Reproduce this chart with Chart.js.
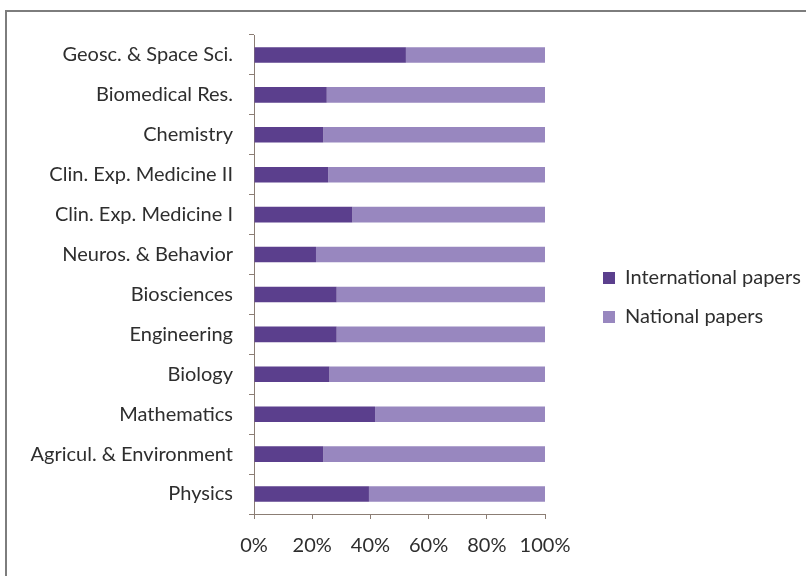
<!DOCTYPE html>
<html>
<head>
<meta charset="utf-8">
<script src="https://cdn.jsdelivr.net/npm/chart.js@4"></script>
<style>
  html, body { margin: 0; padding: 0; background: #fff; }
  #wrap { position: relative; width: 806px; height: 576px; overflow: hidden; }
  #frame { position: absolute; left: 5px; top: 10px; width: 840px; height: 620px;
           border: 2px solid #7d7d7d; pointer-events: none; }
  canvas { position: absolute; left: 0; top: 0; }
</style>
</head>
<body>
<div id="wrap">
  <div id="frame"></div>
  <canvas id="bar_chart" width="806" height="576"></canvas>
</div>
<script>
var fields = ['Geosc. & Space Sci.', 'Biomedical Res.', 'Chemistry', 'Clin. Exp. Medicine II',
              'Clin. Exp. Medicine I', 'Neuros. & Behavior', 'Biosciences', 'Engineering',
              'Biology', 'Mathematics', 'Agricul. & Environment', 'Physics'];
var internationalShare = [52.2, 25.0, 23.8, 25.5, 33.8, 21.3, 28.4, 28.4, 25.9, 41.6, 23.8, 39.5];
var nationalShare      = [47.8, 75.0, 76.2, 74.5, 66.2, 78.7, 71.6, 71.6, 74.1, 58.4, 76.2, 60.5];
var percentTicks = [0, 20, 40, 60, 80, 100];

var axisColor = '#8b7d74';
var textColor = '#2e2e2e';

Chart.defaults.font.family = 'Lato';
Chart.defaults.font.size = 20;
Chart.defaults.color = textColor;

// keep the legend next to the plot but push its items further right
var legendOffset = {
  id: 'legendOffset',
  beforeLayout: function(chart) {
    var lg = chart.legend;
    if (!lg || lg._offsetDone) return;
    lg._offsetDone = true;
    var fit = lg.fit;
    lg.fit = function() {
      fit.apply(this, arguments);
      this.width = 261;
    };
    var draw = lg.draw;
    lg.draw = function() {
      var ctx = this.ctx;
      ctx.save();
      ctx.translate(39, -8);
      draw.apply(this, arguments);
      ctx.restore();
    };
  }
};

new Chart(document.getElementById('bar_chart').getContext('2d'), {
  type: 'bar',
  data: {
    labels: fields,
    datasets: [{
      label: 'International papers',
      data: internationalShare,
      backgroundColor: '#5b3f8d',
      barPercentage: 0.39,
      categoryPercentage: 1
    }, {
      label: 'National papers',
      data: nationalShare,
      backgroundColor: '#9887bf',
      barPercentage: 0.39,
      categoryPercentage: 1
    }]
  },
  options: {
    indexAxis: 'y',
    responsive: false,
    animation: false,
    layout: { padding: { top: 35, left: 0, right: 0, bottom: 0 } },
    plugins: {
      legend: {
        position: 'right',
        labels: { boxWidth: 12, boxHeight: 12, padding: 19, color: textColor }
      },
      tooltip: { enabled: false }
    },
    scales: {
      x: {
        stacked: true,
        min: 0,
        max: 100,
        afterFit: function(scale) { scale.height = 62; },
        afterBuildTicks: function(scale) {
          scale.ticks = percentTicks.map(function(v) { return { value: v }; });
        },
        ticks: {
          padding: 15,
          callback: function(v) { return v + '%'; }
        },
        grid: { drawOnChartArea: false, tickLength: 5, color: axisColor },
        border: { color: axisColor, width: 1 }
      },
      y: {
        stacked: true,
        afterFit: function(scale) { scale.width = 254; },
        ticks: { padding: 16 },
        grid: { drawOnChartArea: false, tickLength: 5, color: axisColor, offset: true },
        border: { color: axisColor, width: 1 }
      }
    }
  },
  plugins: [legendOffset]
});
</script>
</body>
</html>
